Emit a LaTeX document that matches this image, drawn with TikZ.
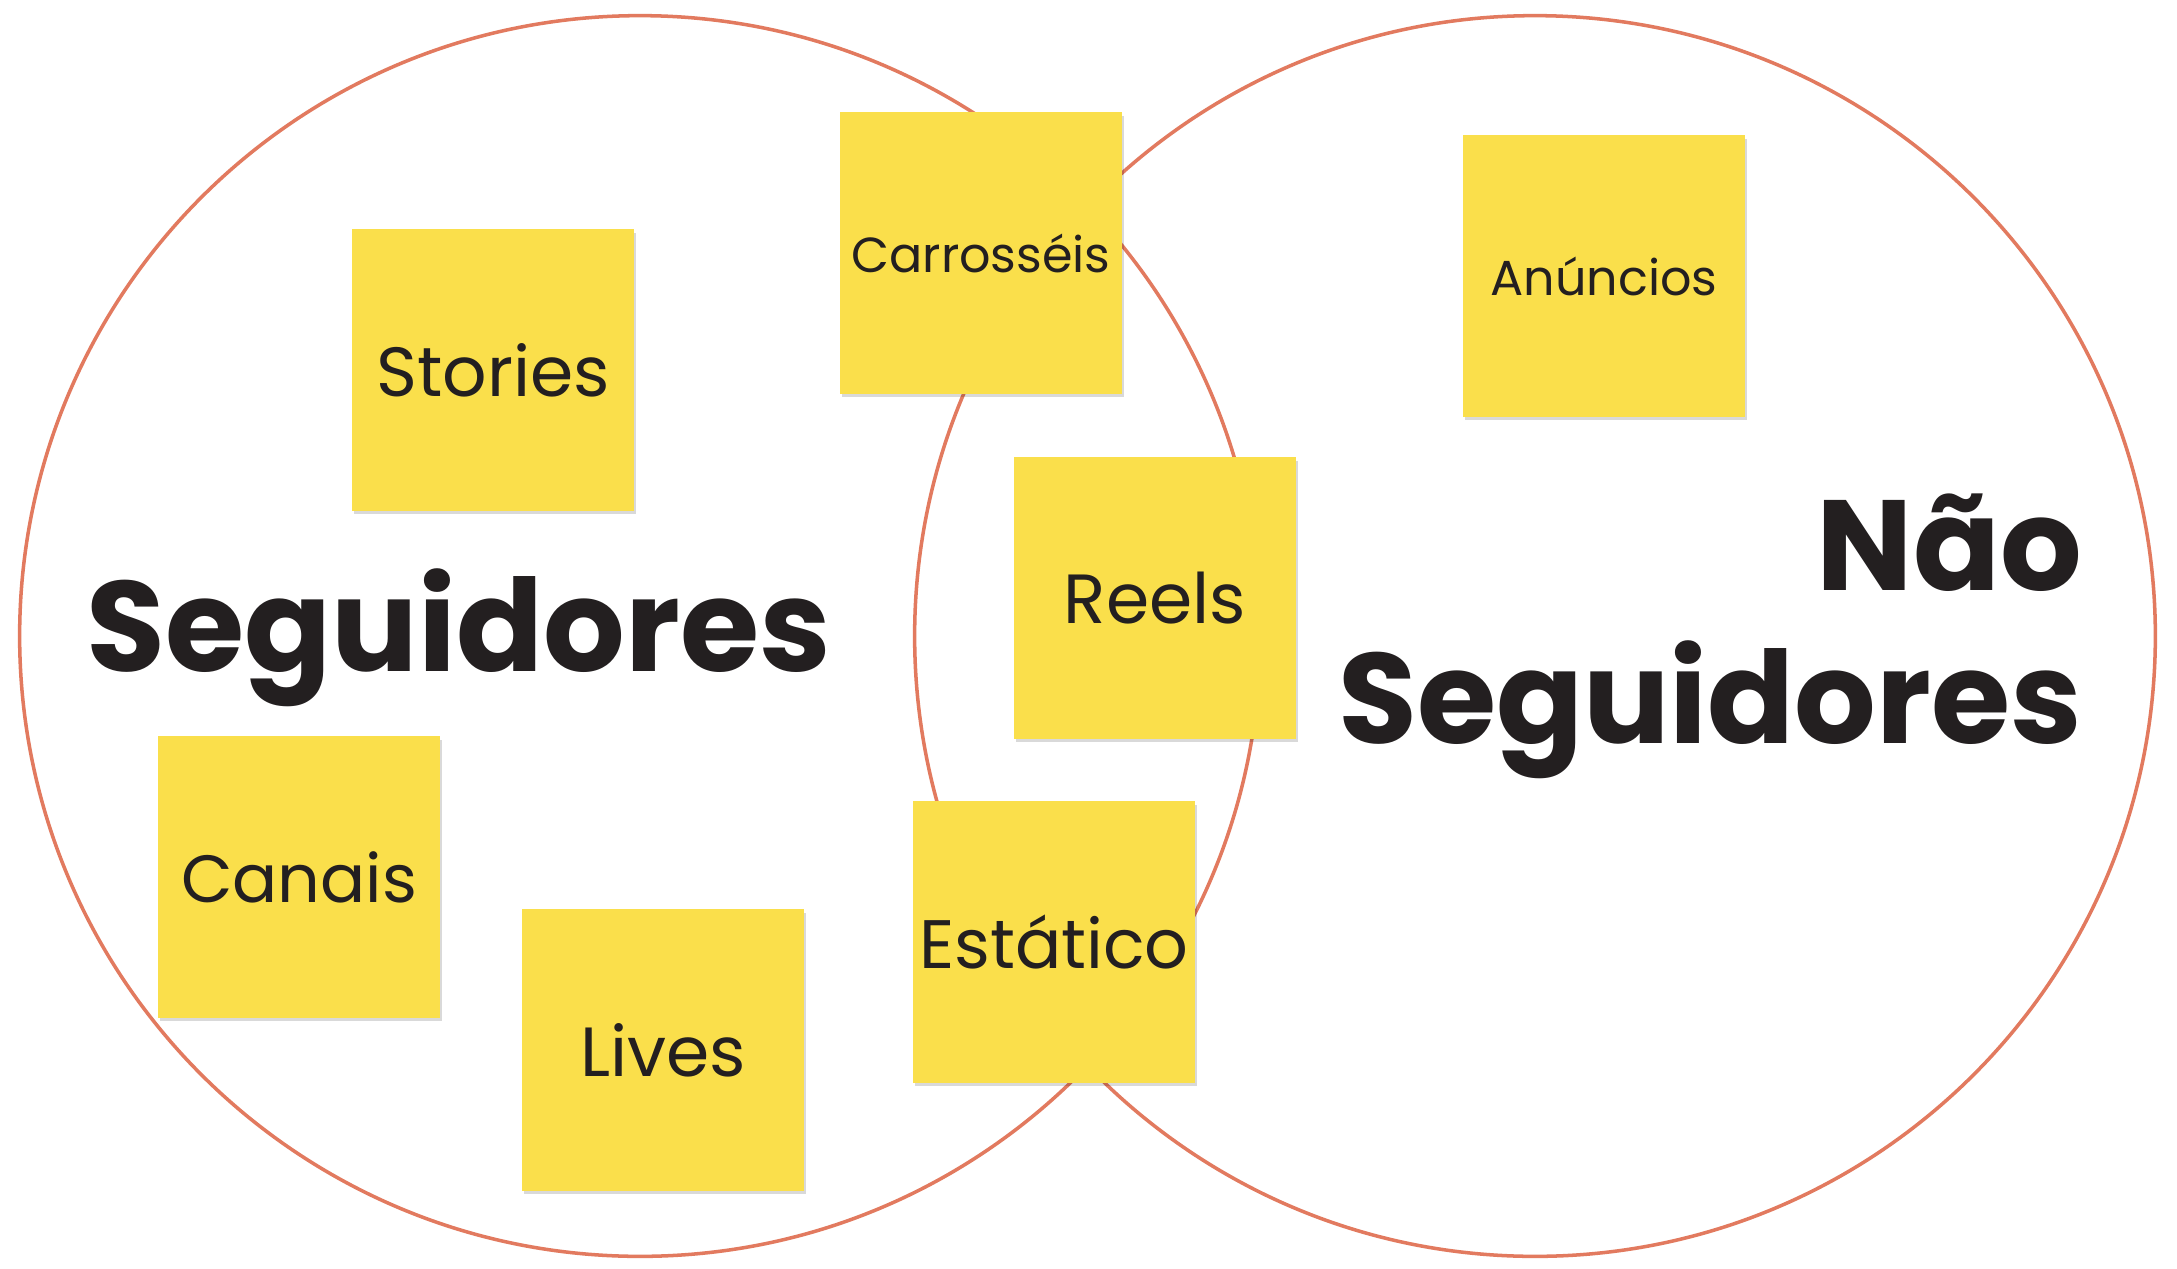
\documentclass[tikz,border=0pt]{standalone}
\usepackage{fontspec}
\setmainfont{Poppins}
\usepackage{tikz}
\usetikzlibrary{shadows}

\definecolor{notefill}{HTML}{FADF4B}
\definecolor{vennline}{HTML}{E27A5F}
\definecolor{ink}{HTML}{231F20}

\tikzset{
  venn/.style={circle, draw=vennline, line width=1pt, minimum size=12.4cm},
  note/.style={fill=notefill, minimum width=2.82cm, minimum height=2.81cm, text=ink,
    font=\fontsize{19.8}{22}\selectfont,
    drop shadow={shadow xshift=0.6pt, shadow yshift=-0.9pt, opacity=0.15, fill=black}},
  notesmall/.style={note, font=\fontsize{14}{17}\selectfont},
  head/.style={text=ink, font=\bfseries\fontsize{36.5}{43.5}\selectfont}
}

\begin{document}
\begin{tikzpicture}[x=0.01cm, y=-0.01cm]
\tikzstyle{every node}+=[inner sep=0pt]
\useasboundingbox[fill=white] (0,0) rectangle (2177,1269);

% the two sets
\node[venn] (seg) at (640,636) {};
\node[venn] (naoseg) at (1535,636) {};

% sticky notes
\node[notesmall] (carrosseis) at (981,253) {Carrosséis};
\node[note] (stories) at (493,370) {Stories};
\node[notesmall] (anuncios) at (1604,276) {Anúncios};
\node[note] (reels) at (1155,598) {Reels};
\node[note, font=\fontsize{19}{22}\selectfont] (canais) at (299,877) {Canais};
\node[note] (lives) at (663,1050) {Lives};
\node[note, font=\fontsize{19.5}{22}\selectfont] (estatico) at (1054,942) {Estático};

% set names
\node[head, anchor=base west] (segtitle) at (86,671) {Seguidores};
\node[head, anchor=base east, align=right] (naosegtitle) at (2083,743) {Não\\Seguidores};
\end{tikzpicture}
\end{document}
